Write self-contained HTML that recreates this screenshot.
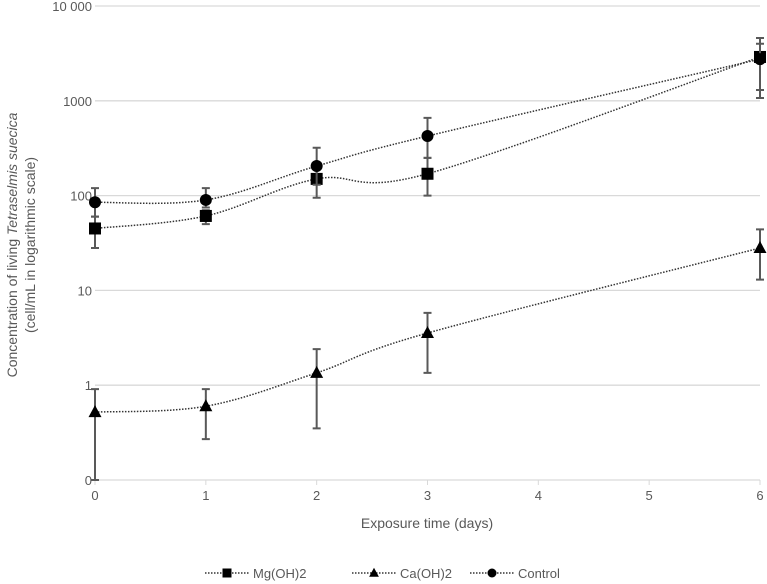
<!DOCTYPE html>
<html><head><meta charset="utf-8"><style>
body{margin:0;background:#fff;}
svg{display:block;font-family:"Liberation Sans",sans-serif;}
</style></head><body>
<svg id="chart" width="767" height="584">
<g id="grid"></g>
<g id="yticks"></g>
<g id="xticks"></g>
<g id="series"></g>
<text transform="translate(17,245) rotate(-90)" text-anchor="middle" font-size="14" fill="#595959">Concentration of living <tspan font-style="italic">Tetraselmis suecica</tspan></text>
<text transform="translate(35,245) rotate(-90)" text-anchor="middle" font-size="14" fill="#595959">(cell/mL in logarithmic scale)</text>
<text x="427" y="528" text-anchor="middle" font-size="14" fill="#595959">Exposure time (days)</text>
<g id="legend"></g>
</svg>
<script>
const categories=[0,1,2,3,4,5,6];
const yTickValues=[0.1,1,10,100,1000,10000];
const yTickLabels=["0","1","10","100","1000","10 000"];
const days=[0,1,2,3,6];
const mgValues=[45,61,150,170,2900];
const mgLow=[28,50,95,100,1070];
const mgHigh=[60,70,200,250,4600];
const caValues=[0.52,0.6,1.35,3.55,28];
const caLow=[0.1,0.27,0.35,1.35,13];
const caHigh=[0.91,0.91,2.4,5.8,44];
const ctrlValues=[85,90,205,425,2750];
const ctrlLow=[60,75,130,250,1300];
const ctrlHigh=[120,120,320,660,4000];

const NS="http://www.w3.org/2000/svg";
const X0=95,X1=760,Y0=480,DEC=94.8;
function xs(d){return X0+(d-categories[0])/(categories[categories.length-1]-categories[0])*(X1-X0);}
function ys(v){return Y0-(Math.log10(v)+1)*DEC;}
function mk(tag,attrs,parent){const e=document.createElementNS(NS,tag);for(const k in attrs)e.setAttribute(k,attrs[k]);parent.appendChild(e);return e;}
const grid=document.getElementById('grid'),yt=document.getElementById('yticks'),xt=document.getElementById('xticks'),ser=document.getElementById('series'),leg=document.getElementById('legend');
yTickValues.forEach((v,i)=>{
  const l=mk('line',{x1:X0,x2:X1,y1:ys(v),y2:ys(v),stroke:'#d9d9d9','stroke-width':1.3},grid);
  
  
  const t=mk('text',{x:X0-3,y:ys(v)+5,'text-anchor':'end','font-size':13,fill:'#595959'},yt);
  t.textContent=yTickLabels[i];
  
  
});
categories.forEach(c=>{
  const l=mk('line',{x1:xs(c),x2:xs(c),y1:Y0,y2:Y0+5,stroke:'#d9d9d9','stroke-width':1},xt);
  
  
  const t=mk('text',{x:xs(c),y:Y0+20,'text-anchor':'middle','font-size':13,fill:'#595959'},xt);
  t.textContent=c;
  
  
});
function smooth(pts){
  let d=`M${pts[0][0]},${pts[0][1]}`;
  for(let i=0;i<pts.length-1;i++){
    const p0=pts[Math.max(0,i-1)],p1=pts[i],p2=pts[i+1],p3=pts[Math.min(pts.length-1,i+2)];
    const t=0.17*3/3;
    const c1=[p1[0]+(p2[0]-p0[0])*t,p1[1]+(p2[1]-p0[1])*t];
    const c2=[p2[0]-(p3[0]-p1[0])*t,p2[1]-(p3[1]-p1[1])*t];
    d+=` C${c1[0]},${c1[1]} ${c2[0]},${c2[1]} ${p2[0]},${p2[1]}`;
  }
  return d;
}
function marker(shape,x,y,g){
  let e;
  if(shape==='square')e=mk('rect',{x:x-6,y:y-6,width:12,height:12,fill:'#000'},g);
  else if(shape==='circle')e=mk('circle',{cx:x,cy:y,r:6,fill:'#000'},g);
  else e=mk('polygon',{points:`${x},${y-7} ${x+6.5},${y+5} ${x-6.5},${y+5}`,fill:'#000'},g);
  return e;
}
function drawSeries(name,vals,lo,hi,shape){
  const g=mk('g',{},ser);
  
  
  days.forEach((d,i)=>{
    const x=xs(d),a=ys(lo[i]),b=ys(hi[i]);
    const e=mk('path',{d:`M${x},${a}V${b}M${x-4},${a}H${x+4}M${x-4},${b}H${x+4}`,stroke:'#595959','stroke-width':2,fill:'none'},g);
    
    
  });
  const pts=days.map((d,i)=>[xs(d),ys(vals[i])]);
  const p=mk('path',{d:smooth(pts),fill:'none',stroke:'#333','stroke-width':1.5,'stroke-dasharray':'1.5 1.5'},g);
  
  
  pts.forEach(pt=>{
    const m=marker(shape,pt[0],pt[1],g);
    
    
  });
}
drawSeries('mg-oh2',mgValues,mgLow,mgHigh,'square');
drawSeries('control',ctrlValues,ctrlLow,ctrlHigh,'circle');
drawSeries('ca-oh2',caValues,caLow,caHigh,'triangle');
const legItems=[['Mg(OH)2','square',205],['Ca(OH)2','triangle',352],['Control','circle',470]];
legItems.forEach(it=>{
  const g=mk('g',{},leg);
  
  
  mk('line',{x1:it[2],x2:it[2]+44,y1:573,y2:573,stroke:'#333','stroke-width':1.5,'stroke-dasharray':'1.5 1.5'},g);
  const m=marker(it[1],it[2]+22,573,g);
  if(it[1]!=='circle')m.setAttribute('transform',`translate(${it[2]+22},573) scale(0.75) translate(${-(it[2]+22)},-573)`);
  else m.setAttribute('r',4.5);
  const t=mk('text',{x:it[2]+48,y:578,'font-size':13,fill:'#595959'},g);
  t.textContent=it[0];
});
</script>
</body></html>
